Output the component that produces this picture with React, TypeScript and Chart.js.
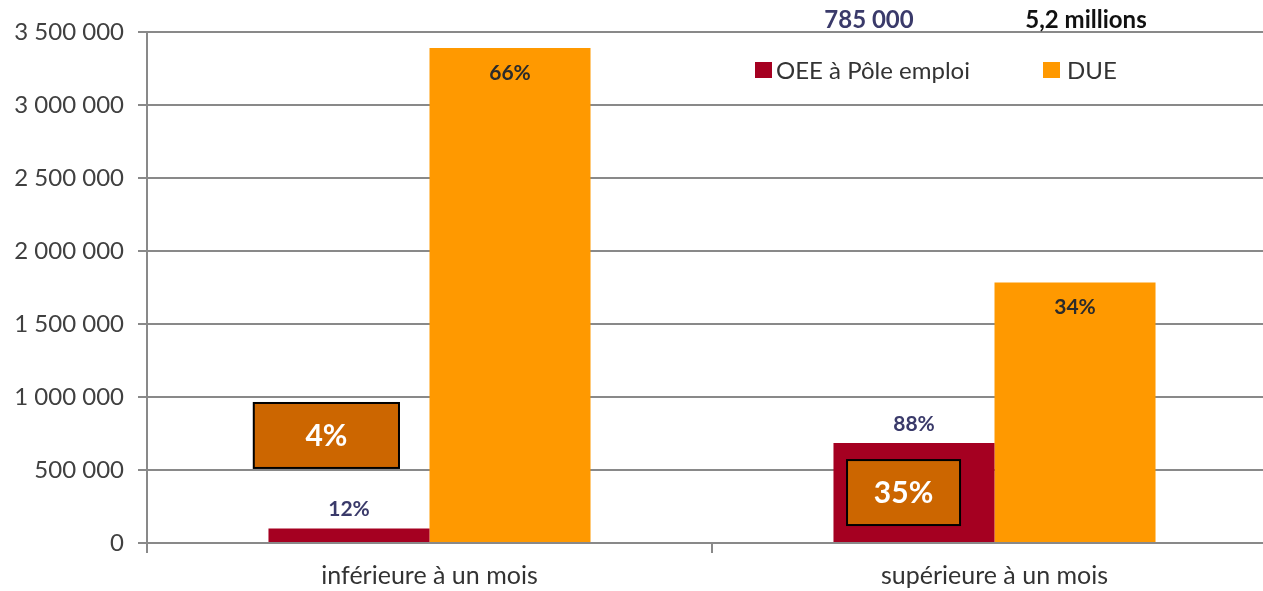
import React, { useEffect, useRef } from 'react';
import { Chart, registerables } from 'chart.js';

Chart.register(...registerables);

// ---- data ----
const categories = ['inférieure à un mois', 'supérieure à un mois'];
const seriesNames = ['OEE à Pôle emploi', 'DUE'];
const oeeValues = [100000, 685000];
const dueValues = [3390000, 1785000];
const oeeLabels = ['12%', '88%'];
const dueLabels = ['66%', '34%'];
const seriesTotals = ['785 000', '5,2 millions'];
const boxLabels = ['4%', '35%'];
const yTickValues = [0, 500000, 1000000, 1500000, 2000000, 2500000, 3000000, 3500000];

const FONT = 'Lato, "Open Sans", sans-serif';
const RED = '#a50021';
const ORANGE = '#ff9900';
const GRID = '#898989';

const fmt = (v: number) => String(v).replace(/\B(?=(\d{3})+(?!\d))/g, ' ');

// annotation boxes in data space (category index units / value units)
const boxGeom = [
  { x0: -0.311, x1: -0.054, y0: 959000, y1: 514000 },
  { x0: 0.739, x1: 0.939, y0: 568000, y1: 123000 },
];

const overlayPlugin = {
  id: 'overlay',
  afterDatasetsDraw(chart: any) {
    const ctx = chart.ctx as CanvasRenderingContext2D;
    const xs = chart.scales.x;
    const ys = chart.scales.y;
    ctx.save();
    ctx.textAlign = 'center';
    ctx.textBaseline = 'middle';

    // labels above red bars
    ctx.font = `bold 21px ${FONT}`;
    ctx.fillStyle = '#3a3a6a';
    chart.getDatasetMeta(0).data.forEach((bar: any, i: number) => {
      ctx.fillText(oeeLabels[i], bar.x, bar.y - 19);
    });
    // labels inside orange bars
    ctx.fillStyle = '#2b2b2b';
    chart.getDatasetMeta(1).data.forEach((bar: any, i: number) => {
      ctx.fillText(dueLabels[i], bar.x, bar.y + 25);
    });

    // annotation boxes
    boxGeom.forEach((b, i) => {
      const l = xs.getPixelForValue(b.x0);
      const r = xs.getPixelForValue(b.x1);
      const t = ys.getPixelForValue(b.y0);
      const bt = ys.getPixelForValue(b.y1);
      ctx.fillStyle = '#cc6600';
      ctx.fillRect(l, t, r - l, bt - t);
      ctx.lineWidth = 2;
      ctx.strokeStyle = '#000';
      ctx.strokeRect(l, t, r - l, bt - t);
      ctx.fillStyle = '#ffffff';
      ctx.font = `bold 30px ${FONT}`;
      ctx.fillText(boxLabels[i], (l + r) / 2, (t + bt) / 2 + 1);
    });

    // legend
    const legendItems = [
      { x: 755, gap: 21, color: RED, text: seriesNames[0] },
      { x: 1043, gap: 24, color: ORANGE, text: seriesNames[1] },
    ];
    const ly = 70;
    ctx.textAlign = 'left';
    legendItems.forEach((it) => {
      ctx.fillStyle = it.color;
      ctx.fillRect(it.x, ly - 8, 17, 16);
      ctx.fillStyle = '#333';
      ctx.font = `24px ${FONT}`;
      ctx.fillText(it.text, it.x + it.gap, ly + 1);
    });
    // totals above legend
    ctx.textAlign = 'center';
    ctx.font = `bold 24px ${FONT}`;
    ctx.fillStyle = '#3a3a6a';
    ctx.fillText(seriesTotals[0], 869, 20);
    ctx.fillStyle = '#111';
    ctx.fillText(seriesTotals[1], 1086, 20);
    ctx.restore();
  },
};

export default function App() {
  const ref = useRef<HTMLCanvasElement>(null);
  useEffect(() => {
    if (!ref.current) return;
    const chart = new Chart(ref.current, {
      type: 'bar',
      data: {
        labels: categories,
        datasets: [
          {
            label: seriesNames[0],
            data: oeeValues,
            backgroundColor: RED,
            categoryPercentage: 0.57,
            barPercentage: 1,
          },
          {
            label: seriesNames[1],
            data: dueValues,
            backgroundColor: ORANGE,
            categoryPercentage: 0.57,
            barPercentage: 1,
          },
        ],
      },
      options: {
        animation: false,
        responsive: false,
        layout: { padding: { top: 32, right: 13, left: 0, bottom: 0 } },
        plugins: {
          legend: { display: false },
          tooltip: { enabled: false },
        },
        scales: {
          x: {
            grid: {
              offset: true,
              drawOnChartArea: false,
              color: GRID,
              lineWidth: 2,
              tickLength: 10,
            },
            border: { color: GRID, width: 2 },
            ticks: {
              font: { family: FONT, size: 25 },
              color: '#333',
              padding: 8,
            },
            afterFit(s: any) {
              s.height = 48;
            },
          },
          y: {
            min: 0,
            max: 3500000,
            afterBuildTicks(s: any) {
              s.ticks = yTickValues.map((v) => ({ value: v }));
            },
            ticks: {
              callback: (v: any) => fmt(Number(v)),
              font: { family: FONT, size: 24 },
              color: '#404040',
              padding: 14,
            },
            grid: { color: GRID, lineWidth: 2, tickLength: 9 },
            border: { color: GRID, width: 2 },
            afterFit(s: any) {
              s.width = 147;
            },
          },
        },
      },
      plugins: [overlayPlugin],
    });
    return () => chart.destroy();
  }, []);
  return (
    <div style={{ position: 'fixed', left: 0, top: 0, width: 1290, height: 591, background: '#fff' }}>
      <canvas ref={ref} width={1290} height={591} style={{ display: 'block' }} />
    </div>
  );
}
